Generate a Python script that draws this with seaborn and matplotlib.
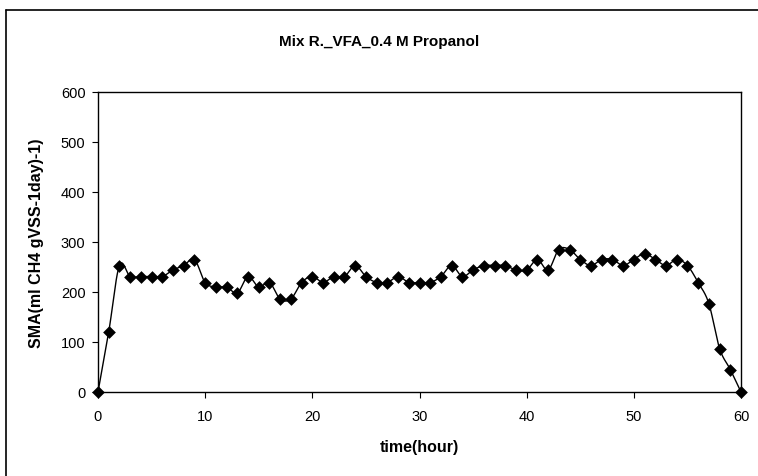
#!/usr/bin/env python3
"""SMA over time for the mixed reactor (VFA + 0.4 M propanol)."""

import matplotlib

matplotlib.use("Agg")
import matplotlib.pyplot as plt
import numpy as np
import pandas as pd
import seaborn as sns
from matplotlib.lines import Line2D

TITLE = "Mix R._VFA_0.4 M Propanol"
X_LABEL = "time(hour)"
Y_LABEL = "SMA(ml CH4 gVSS-1day)-1)"

hours = list(range(0, 61))
sma = [
    0, 120, 253, 231, 231, 231, 231, 244, 253, 265,
    219, 210, 210, 198, 231, 210, 219, 186, 186, 219,
    231, 219, 231, 231, 253, 231, 219, 219, 231, 219,
    219, 219, 231, 253, 231, 244, 253, 253, 253, 244,
    244, 265, 244, 285, 285, 265, 253, 265, 265, 253,
    265, 277, 265, 253, 265, 253, 219, 177, 87, 45,
    0,
]
x_ticks = [0, 10, 20, 30, 40, 50, 60]
y_ticks = [0, 100, 200, 300, 400, 500, 600]


def smooth(x, y, n=20):
    # Catmull-Rom through every point, close to Excel's smoothed line
    x = np.asarray(x, float)
    y = np.asarray(y, float)
    px = np.concatenate([[2 * x[0] - x[1]], x, [2 * x[-1] - x[-2]]])
    py = np.concatenate([[2 * y[0] - y[1]], y, [2 * y[-1] - y[-2]]])
    xs, ys = [], []
    t = np.linspace(0, 1, n, endpoint=False)
    for i in range(1, len(px) - 2):
        for arr, out in ((px, xs), (py, ys)):
            p0, p1, p2, p3 = arr[i - 1], arr[i], arr[i + 1], arr[i + 2]
            out.extend(
                0.5 * ((2 * p1) + (-p0 + p2) * t + (2 * p0 - 5 * p1 + 4 * p2 - p3) * t**2
                       + (-p0 + 3 * p1 - 3 * p2 + p3) * t**3)
            )
    xs.append(x[-1])
    ys.append(y[-1])
    return np.array(xs), np.array(ys)


def main() -> None:
    sns.set_style("ticks")
    plt.rcParams["font.family"] = ["Liberation Sans", "DejaVu Sans"]
    plt.rcParams["text.color"] = "black"
    plt.rcParams["axes.labelcolor"] = "black"

    df = pd.DataFrame({"time": hours, "sma": sma})
    sx, sy = smooth(hours, sma)
    curve = pd.DataFrame({"time": sx, "sma": sy})

    fig = plt.figure(figsize=(7.58, 4.77), dpi=100)
    ax = fig.add_axes([98 / 758, 1 - 393 / 477, 643 / 758, 300 / 477])

    sns.lineplot(data=curve, x="time", y="sma", color="black", linewidth=1.0,
                 sort=False, estimator=None, ax=ax)
    sns.scatterplot(data=df, x="time", y="sma", marker="D", s=42, color="black",
                    edgecolor="black", linewidth=0, ax=ax, clip_on=False, zorder=3)

    ax.set_xlim(0, 60)
    ax.set_ylim(0, 600)
    ax.set_xticks(x_ticks)
    ax.set_yticks(y_ticks)
    ax.tick_params(axis="both", direction="out", length=4, width=0.8, labelsize=10.5,
                   colors="black", labelcolor="black", pad=5)
    ax.tick_params(axis="x", pad=8)
    for side in ax.spines.values():
        side.set_visible(True)
        side.set_color("black")
        side.set_linewidth(1.0)

    ax.set_xlabel(X_LABEL, fontsize=11.5, fontweight="bold", labelpad=12, color="black")
    ax.set_ylabel(Y_LABEL, fontsize=11.5, fontweight="bold", labelpad=12, color="black")
    fig.text(0.5, 1 - 42 / 477, TITLE, ha="center", va="center", fontsize=11,
             fontweight="bold", color="black")

    # outer chart-area frame (left and top edges are visible in the crop)
    fig.add_artist(Line2D([6 / 758, 6 / 758], [0, 1 - 11 / 477], color="black", lw=1.2))
    fig.add_artist(Line2D([6 / 758, 1], [1 - 11 / 477, 1 - 11 / 477], color="black", lw=1.2))

    fig.savefig("out.png", dpi=100, facecolor="white")
    plt.close(fig)


if __name__ == "__main__":
    main()
